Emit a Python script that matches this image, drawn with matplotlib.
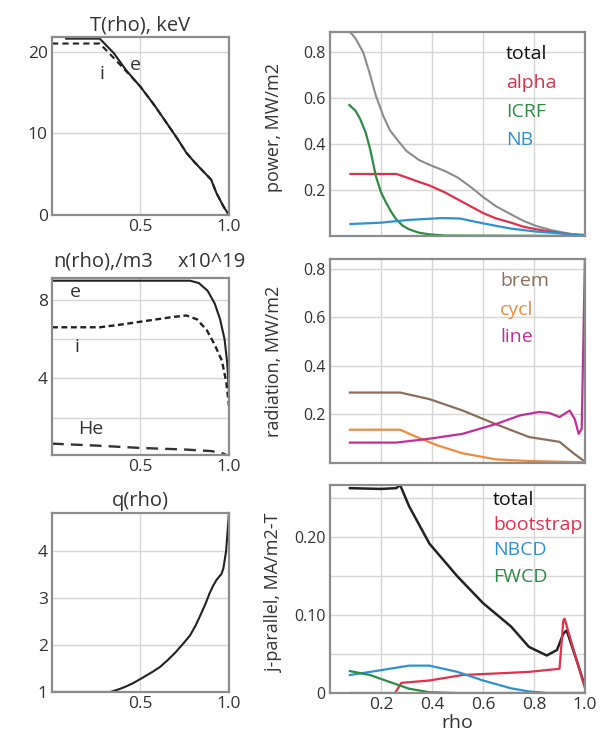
import numpy as np
import matplotlib.pyplot as plt

plt.rcParams['font.family'] = ['Open Sans', 'DejaVu Sans']

# --- T(rho) ---
rho_te = [0.08, 0.27, 0.35, 0.42, 0.5, 0.58, 0.65, 0.71, 0.76, 0.8, 0.83, 0.87, 0.9, 0.93, 0.97, 1.0]
te = [21.6, 21.6, 19.8, 17.7, 15.7, 13.4, 11.2, 9.3, 7.6, 6.6, 5.9, 5.0, 4.3, 2.65, 1.0, 0.0]
rho_ti = [0.0, 0.27, 0.35, 0.45, 0.5, 0.58, 0.65, 0.71, 0.76, 0.8, 0.83, 0.87, 0.9, 0.93, 0.97, 1.0]
ti = [21.0, 21.0, 19.2, 16.9, 15.7, 13.4, 11.2, 9.3, 7.6, 6.6, 5.9, 5.0, 4.3, 2.65, 1.0, 0.0]

# --- n(rho) ---
rho_ne = [0.0, 0.78, 0.83, 0.88, 0.92, 0.95, 0.975, 0.99, 1.0]
ne = [8.97, 8.97, 8.85, 8.45, 7.8, 7.0, 6.0, 4.8, 3.3]
rho_ni = [0.0, 0.27, 0.4, 0.55, 0.68, 0.76, 0.82, 0.875, 0.92, 0.96, 0.985, 1.0]
ni = [6.6, 6.6, 6.75, 6.95, 7.12, 7.2, 7.0, 6.45, 5.7, 4.9, 3.8, 2.6]
rho_he = [0.0, 0.25, 0.5, 0.75, 0.9, 0.96, 1.0]
nhe = [0.68, 0.58, 0.46, 0.38, 0.3, 0.2, 0.05]

# --- q(rho) ---
rho_q = [0.0, 0.33, 0.38, 0.42, 0.46, 0.52, 0.565, 0.61, 0.655, 0.7, 0.74, 0.78, 0.81,
         0.835, 0.865, 0.89, 0.91, 0.93, 0.945, 0.957, 0.968, 0.976, 0.984, 0.99, 0.995, 1.0]
q = [1.0, 1.0, 1.06, 1.12, 1.19, 1.32, 1.42, 1.53, 1.68, 1.85, 2.02, 2.2, 2.4,
     2.6, 2.85, 3.09, 3.25, 3.38, 3.45, 3.5, 3.62, 3.8, 4.0, 4.3, 4.55, 4.8]

# --- power ---
rho_ptot = [0.07, 0.1, 0.13, 0.155, 0.18, 0.21, 0.235, 0.27, 0.3, 0.35, 0.39, 0.45, 0.5,
            0.55, 0.6, 0.65, 0.71, 0.76, 0.81, 0.87, 0.92, 0.96, 1.0]
p_total = [0.9, 0.86, 0.8, 0.71, 0.61, 0.52, 0.46, 0.41, 0.37, 0.33, 0.31, 0.283, 0.255,
           0.215, 0.17, 0.13, 0.094, 0.065, 0.043, 0.025, 0.014, 0.006, 0.0]
rho_alpha = [0.08, 0.26, 0.3, 0.35, 0.39, 0.45, 0.5, 0.55, 0.6, 0.65, 0.71, 0.76, 0.81, 0.87, 0.92, 1.0]
p_alpha = [0.27, 0.27, 0.255, 0.235, 0.22, 0.19, 0.16, 0.13, 0.10, 0.077, 0.058, 0.04, 0.029, 0.018, 0.01, 0.0]
rho_icrf = [0.076, 0.1, 0.118, 0.14, 0.157, 0.18, 0.2, 0.22, 0.24, 0.26, 0.285, 0.31, 0.35, 0.39, 0.45, 1.0]
p_icrf = [0.57, 0.545, 0.51, 0.45, 0.38, 0.26, 0.19, 0.145, 0.105, 0.072, 0.045, 0.029, 0.014, 0.007, 0.002, 0.0]
rho_nb = [0.08, 0.2, 0.31, 0.44, 0.51, 0.6, 0.71, 0.81, 0.92, 1.0]
p_nb = [0.052, 0.058, 0.07, 0.078, 0.076, 0.055, 0.032, 0.019, 0.01, 0.005]

# --- radiation ---
rho_brem = [0.078, 0.275, 0.39, 0.52, 0.65, 0.78, 0.9, 0.955, 1.0]
r_brem = [0.29, 0.29, 0.263, 0.216, 0.16, 0.107, 0.087, 0.04, 0.005]
rho_cycl = [0.078, 0.275, 0.34, 0.42, 0.52, 0.65, 0.78, 1.0]
r_cycl = [0.137, 0.137, 0.107, 0.073, 0.04, 0.015, 0.008, 0.003]
rho_line = [0.078, 0.26, 0.39, 0.52, 0.65, 0.745, 0.82, 0.86, 0.9, 0.94, 0.96, 0.975, 0.987, 0.996, 1.0]
r_line = [0.084, 0.084, 0.1, 0.12, 0.16, 0.196, 0.21, 0.206, 0.189, 0.216, 0.18, 0.12, 0.14, 0.64, 0.86]

# --- current ---
rho_jtot = [0.078, 0.2, 0.26, 0.275, 0.31, 0.39, 0.5, 0.6, 0.71, 0.78, 0.85, 0.89, 0.915, 0.928, 0.967, 1.0]
j_total = [0.262, 0.261, 0.262, 0.266, 0.239, 0.191, 0.149, 0.115, 0.085, 0.059, 0.048, 0.055, 0.076, 0.08, 0.042, 0.008]
rho_bs = [0.078, 0.255, 0.28, 0.39, 0.52, 0.65, 0.78, 0.9, 0.915, 0.92, 0.967, 1.0]
j_bs = [0.0, 0.0, 0.013, 0.016, 0.023, 0.025, 0.027, 0.031, 0.093, 0.095, 0.042, 0.006]
rho_nbcd = [0.078, 0.196, 0.31, 0.39, 0.5, 0.6, 0.71, 0.78, 0.85, 1.0]
j_nbcd = [0.023, 0.029, 0.035, 0.035, 0.027, 0.016, 0.006, 0.002, 0.0, 0.0]
rho_fwcd = [0.078, 0.157, 0.235, 0.31, 0.39, 0.5, 1.0]
j_fwcd = [0.028, 0.023, 0.014, 0.0055, 0.001, 0.0, 0.0]

grey = '#8c8c8c'
txt = '#333333'
c_red = '#e0304a'
c_green = '#2e8b44'
c_blue = '#2f90d2'
c_brown = '#8c6e5a'
c_orange = '#f08a3c'
c_mag = '#c0309a'


def style(ax, fs):
    for s in ax.spines.values():
        s.set_color(grey)
        s.set_linewidth(1.6)
    ax.tick_params(length=0, labelsize=fs, colors=txt, pad=3)
    ax.grid(True, color='#d6d6d6', linewidth=1.0)
    ax.set_axisbelow(True)


fig = plt.figure(figsize=(6.16, 7.37), dpi=100)

# left column
ax1 = fig.add_axes([0.0844, 0.7083, 0.2873, 0.2415])
ax2 = fig.add_axes([0.0844, 0.3826, 0.2873, 0.2400])
ax3 = fig.add_axes([0.0844, 0.0611, 0.2873, 0.2429])
# right column
ax4 = fig.add_axes([0.5357, 0.6798, 0.4140, 0.2768])
ax5 = fig.add_axes([0.5357, 0.3718, 0.4140, 0.2768])
ax6 = fig.add_axes([0.5357, 0.0597, 0.4140, 0.2822])

# T(rho)
ax1.plot(rho_te, te, color='#222222', lw=1.5)
ax1.plot(rho_ti, ti, color='#222222', lw=1.5, ls=(0, (3, 2)))
ax1.set_xlim(0, 1.0)
ax1.set_ylim(0, 21.8)
ax1.set_yticks([0, 10, 20])
ax1.set_xticks([0.5, 1.0])
ax1.set_xticklabels(['0.5', '1.0'])
ax1.text(0.47, 18.4, 'e', fontsize=14, color=txt, ha='center', va='center')
ax1.text(0.28, 17.3, 'i', fontsize=14, color=txt, ha='center', va='center')
ax1.set_title('T(rho), keV', fontsize=14.5, color=txt, pad=5)
style(ax1, 12.5)

# n(rho)
ax2.plot(rho_ne, ne, color='#222222', lw=1.5)
ax2.plot(rho_ni, ni, color='#222222', lw=1.7, ls=(0, (2.5, 1.5)))
ax2.plot(rho_he, nhe, color='#333333', lw=1.7, ls=(0, (5, 3)))
ax2.set_xlim(0, 1.0)
ax2.set_ylim(0.1, 9.1)
ax2.set_yticks([2, 4, 6, 8])
ax2.set_yticklabels(['', '4', '', '8'])
ax2.set_xticks([0.5, 1.0])
ax2.set_xticklabels(['0.5', '1.0'])
ax2.text(0.13, 8.4, 'e', fontsize=14, color=txt, ha='center', va='center')
ax2.text(0.14, 5.6, 'i', fontsize=14, color=txt, ha='center', va='center')
ax2.text(0.22, 1.4, 'He', fontsize=14, color=txt, ha='center', va='center')
fig.text(53 / 616, 1 - 262 / 737, 'n(rho),/m3', fontsize=14.5, color=txt, ha='left', va='center')
fig.text(178 / 616, 1 - 262 / 737, 'x10^19', fontsize=14.5, color=txt, ha='left', va='center')
style(ax2, 12.5)

# q(rho)
ax3.plot(rho_q, q, color='#222222', lw=1.5)
ax3.set_xlim(0, 1.0)
ax3.set_ylim(1, 4.8)
ax3.set_yticks([1, 2, 3, 4])
ax3.set_xticks([0.5, 1.0])
ax3.set_xticklabels(['0.5', '1.0'])
ax3.set_title('q(rho)', fontsize=14.5, color=txt, pad=5)
style(ax3, 12.5)

# power
ax4.plot(rho_ptot, p_total, color=grey, lw=1.5)
ax4.plot(rho_alpha, p_alpha, color=c_red, lw=1.6)
ax4.plot(rho_icrf, p_icrf, color=c_green, lw=1.6)
ax4.plot(rho_nb, p_nb, color=c_blue, lw=1.6)
ax4.set_xlim(0, 1.0)
ax4.set_ylim(0, 0.888)
ax4.set_yticks([0.2, 0.4, 0.6, 0.8])
ax4.set_xticks([0.2, 0.4, 0.6, 0.8, 1.0])
ax4.set_xticklabels([])
ax4.set_ylabel('power, MW/m2', fontsize=13, color=txt)
ax4.yaxis.set_label_coords(-0.185, 0.53)
for lab, yv, c in [('total', 0.79, '#111111'), ('alpha', 0.667, c_red),
                   ('ICRF', 0.54, c_green), ('NB', 0.42, c_blue)]:
    ax4.text(0.69, yv, lab, fontsize=14, color=c, ha='left', va='center')
style(ax4, 11.5)

# radiation
ax5.plot(rho_brem, r_brem, color=c_brown, lw=1.6)
ax5.plot(rho_cycl, r_cycl, color=c_orange, lw=1.6)
ax5.plot(rho_line, r_line, color=c_mag, lw=1.6)
ax5.set_xlim(0, 1.0)
ax5.set_ylim(0, 0.84)
ax5.set_yticks([0.2, 0.4, 0.6, 0.8])
ax5.set_xticks([0.2, 0.4, 0.6, 0.8, 1.0])
ax5.set_xticklabels([])
ax5.set_ylabel('radiation, MW/m2', fontsize=13, color=txt)
ax5.yaxis.set_label_coords(-0.185, 0.5)
for lab, yv, c in [('brem', 0.75, c_brown), ('cycl', 0.63, c_orange), ('line', 0.52, c_mag)]:
    ax5.text(0.667, yv, lab, fontsize=14, color=c, ha='left', va='center')
style(ax5, 11.5)

# current
ax6.plot(rho_jtot, j_total, color='#222222', lw=1.8)
ax6.plot(rho_bs, j_bs, color=c_red, lw=1.6)
ax6.plot(rho_nbcd, j_nbcd, color=c_blue, lw=1.6)
ax6.plot(rho_fwcd, j_fwcd, color=c_green, lw=1.6)
ax6.set_xlim(0, 1.0)
ax6.set_ylim(0, 0.266)
ax6.set_yticks([0, 0.05, 0.10, 0.15, 0.20, 0.25])
ax6.set_yticklabels(['0', '', '0.10', '', '0.20', ''])
ax6.set_xticks([0.2, 0.4, 0.6, 0.8, 1.0])
ax6.set_xticklabels(['0.2', '0.4', '0.6', '0.8', '1.0'])
ax6.set_ylabel('j-parallel, MA/m2-T', fontsize=13, color=txt)
ax6.yaxis.set_label_coords(-0.185, 0.48)
ax6.set_xlabel('rho', fontsize=14, color=txt)
ax6.xaxis.set_label_coords(0.5, -0.1)
for lab, yv, c in [('total', 0.247, '#111111'), ('bootstrap', 0.215, c_red),
                   ('NBCD', 0.183, c_blue), ('FWCD', 0.149, c_green)]:
    ax6.text(0.64, yv, lab, fontsize=14, color=c, ha='left', va='center')
style(ax6, 11.5)
ax6.tick_params(axis='x', labelsize=12.5)

fig.savefig('out.png', dpi=100)
